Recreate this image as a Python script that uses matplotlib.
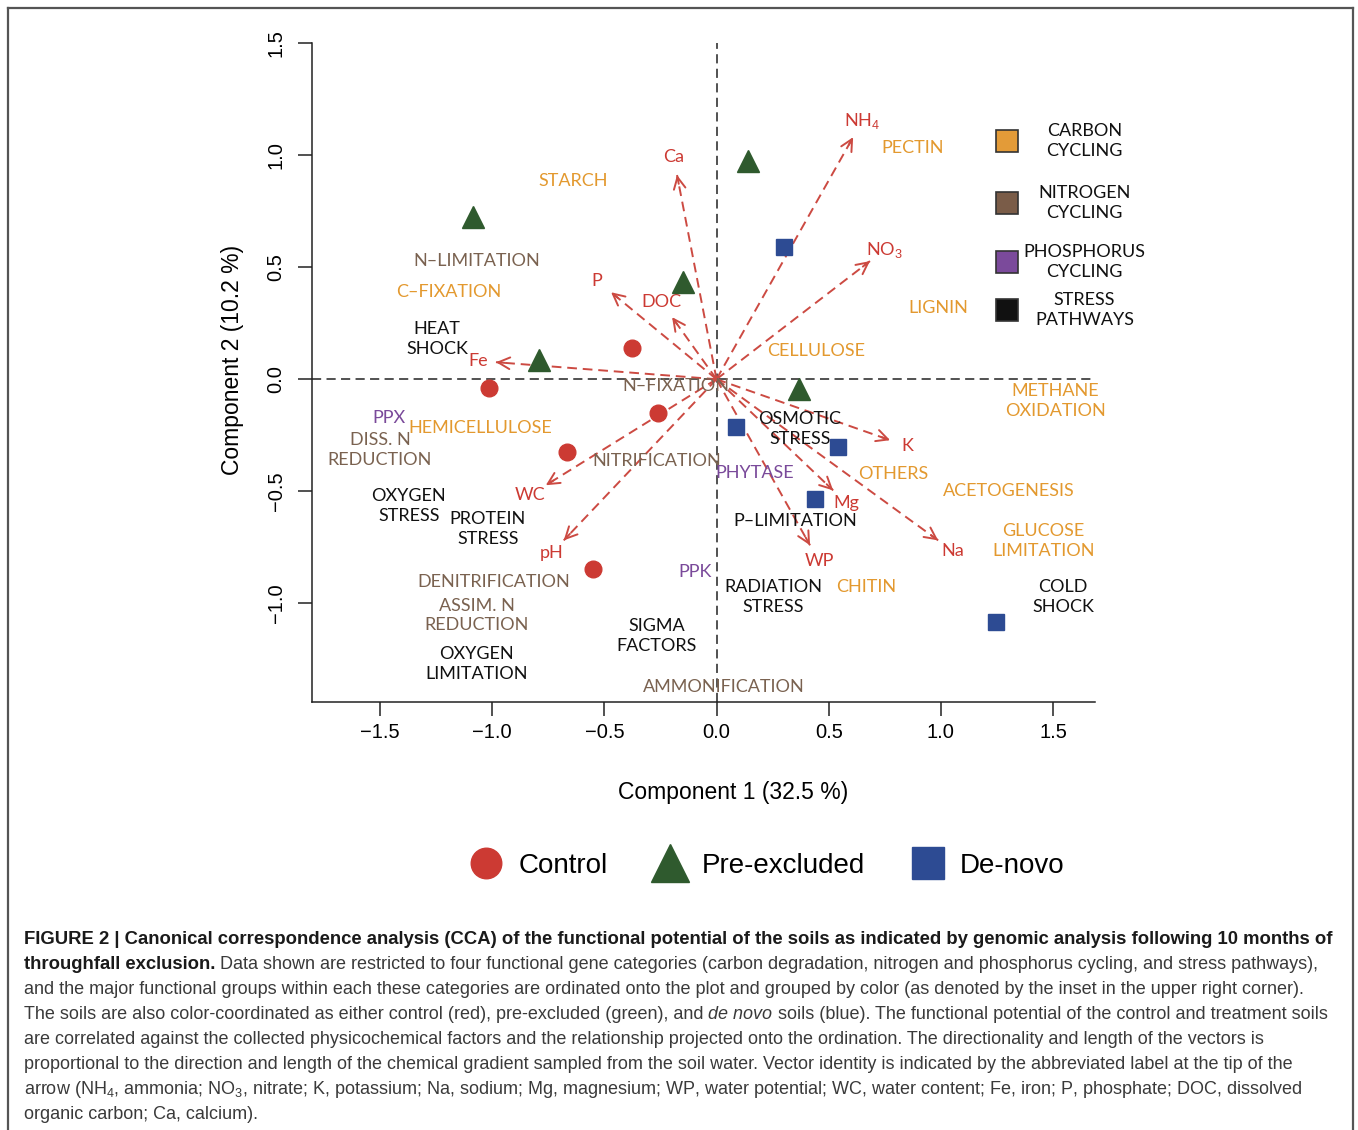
import numpy as np
import matplotlib.pyplot as plt
from matplotlib.lines import Line2D

plt.rcParams['font.family'] = ['Liberation Sans', 'DejaVu Sans']
plt.rcParams['mathtext.fontset'] = 'custom'
plt.rcParams['mathtext.rm'] = 'Liberation Sans'
plt.rcParams['mathtext.it'] = 'Liberation Sans:italic'
plt.rcParams['mathtext.bf'] = 'Liberation Sans:bold'

LABEL_FONT = ['Lato', 'DejaVu Sans']

# --- soil samples (site scores) ---
control_x = [-1.014, -0.377, -0.261, -0.667, -0.551]
control_y = [-0.040, 0.138, -0.152, -0.326, -0.848]
preexcl_x = [-1.086, 0.140, -0.149, -0.793, 0.368]
preexcl_y = [0.723, 0.973, 0.433, 0.085, -0.045]
denovo_x = [0.300, 0.087, 0.540, 0.439, 1.246]
denovo_y = [0.589, -0.214, -0.304, -0.536, -1.085]

# --- physicochemical vectors ---
vec_names = ['NH$_4$', 'NO$_3$', 'Ca', 'P', 'DOC', 'Fe', 'WC', 'pH', 'K', 'Mg', 'Na', 'WP']
vec_x = [0.609, 0.684, -0.176, -0.470, -0.198, -0.983, -0.761, -0.681, 0.774, 0.520, 0.988, 0.417]
vec_y = [1.080, 0.527, 0.911, 0.388, 0.277, 0.076, -0.473, -0.719, -0.272, -0.496, -0.719, -0.741]

# --- functional groups (species scores), by category ---
carbon_names = ['STARCH', 'PECTIN', 'C\u2013FIXATION', 'LIGNIN', 'CELLULOSE', 'METHANE\nOXIDATION',
                'HEMICELLULOSE', 'OTHERS', 'ACETOGENESIS', 'GLUCOSE\nLIMITATION', 'CHITIN']
carbon_x = [-0.640, 0.872, -1.193, 0.988, 0.444, 1.509, -1.054, 0.787, 1.304, 1.456, 0.667]
carbon_y = [0.884, 1.031, 0.388, 0.317, 0.125, -0.098, -0.219, -0.424, -0.500, -0.723, -0.929]

nitrogen_names = ['N\u2013LIMITATION', 'N\u2013FIXATION', 'DISS. N\nREDUCTION', 'NITRIFICATION',
                  'DENITRIFICATION', 'ASSIM. N\nREDUCTION', 'AMMONIFICATION']
nitrogen_x = [-1.068, -0.181, -1.500, -0.265, -0.992, -1.068, 0.033]
nitrogen_y = [0.527, -0.031, -0.317, -0.366, -0.906, -1.054, -1.371]

phos_names = ['PPX', 'PHYTASE', 'PPK']
phos_x = [-1.460, 0.172, -0.096]
phos_y = [-0.174, -0.420, -0.862]

stress_names = ['HEAT\nSHOCK', 'OXYGEN\nSTRESS', 'PROTEIN\nSTRESS', 'OSMOTIC\nSTRESS', 'P\u2013LIMITATION',
                'RADIATION\nSTRESS', 'SIGMA\nFACTORS', 'OXYGEN\nLIMITATION', 'COLD\nSHOCK']
stress_x = [-1.246, -1.371, -1.019, 0.372, 0.350, 0.252, -0.265, -1.068, 1.545]
stress_y = [0.179, -0.567, -0.670, -0.223, -0.634, -0.973, -1.147, -1.272, -0.973]

cat_labels = ['CARBON\nCYCLING', 'NITROGEN\nCYCLING', 'PHOSPHORUS\nCYCLING', 'STRESS\nPATHWAYS']
cat_colors = ['#E39B38', '#7A5C48', '#7B4A9B', '#111111']
text_colors = ['#E3992F', '#7A6250', '#7A4A9A', '#111111']

red = '#CC3A33'
green = '#2F5A2E'
blue = '#2D4B93'
arrow_col = '#CC4A42'

fig = plt.figure(figsize=(13.58, 11.30), dpi=100)
ax = fig.add_axes([312 / 1358, 1 - 702 / 1130, 783 / 1358, 659 / 1130])
ax.set_xlim(-1.803, 1.687)
ax.set_ylim(-1.44, 1.50)
for s in ['top', 'right']:
    ax.spines[s].set_visible(False)
for s in ['left', 'bottom']:
    ax.spines[s].set_linewidth(1.1)
    ax.spines[s].set_color('#222222')

ax.set_xticks([-1.5, -1.0, -0.5, 0.0, 0.5, 1.0, 1.5])
ax.set_yticks([-1.0, -0.5, 0.0, 0.5, 1.0, 1.5])
ax.xaxis.set_major_formatter(plt.FuncFormatter(lambda v, p: f'{v:.1f}'.replace('-', '\u2212')))
ax.yaxis.set_major_formatter(plt.FuncFormatter(lambda v, p: f'{v:.1f}'.replace('-', '\u2212')))
ax.tick_params(length=10, width=1.1, labelsize=14.5, color='#222222')
ax.tick_params(axis='x', pad=5)
ax.tick_params(axis='y', pad=9, labelrotation=90)
plt.setp(ax.get_yticklabels(), va='center')

# reference lines through the origin
ax.axhline(0, color='#222222', lw=1.1, dashes=(6, 3.5), zorder=1)
ax.axvline(0, color='#222222', lw=1.1, dashes=(6, 3.5), zorder=1)

# vectors
for name, x, y in zip(vec_names, vec_x, vec_y):
    ax.plot([0, x], [0, y], color=arrow_col, lw=1.4, dashes=(5, 3), zorder=2)
    L = np.hypot(x, y)
    ux, uy = x / L, y / L
    ax.annotate('', xy=(x, y), xytext=(x - 0.04 * ux, y - 0.04 * uy),
                arrowprops=dict(arrowstyle='->,head_length=0.6,head_width=0.3', color=arrow_col,
                                lw=1.4, shrinkA=0, shrinkB=0, mutation_scale=14), zorder=2)
    ax.annotate(name, xy=(x, y), xytext=(13 * ux, 13 * uy), textcoords='offset points',
                ha='center', va='center', color=red, fontsize=13, family=LABEL_FONT, zorder=3)

# functional group labels
groups = [(carbon_names, carbon_x, carbon_y), (nitrogen_names, nitrogen_x, nitrogen_y),
          (phos_names, phos_x, phos_y), (stress_names, stress_x, stress_y)]
for (names, xs, ys), col in zip(groups, text_colors):
    for n, x, y in zip(names, xs, ys):
        ax.text(x, y, n, color=col, ha='center', va='center', fontsize=13, family=LABEL_FONT,
                linespacing=1.3, zorder=3)

# sample points
ax.plot(control_x, control_y, 'o', color=red, ms=12, mec=red, zorder=4)
ax.plot(preexcl_x, preexcl_y, '^', color=green, ms=16, mec=green, zorder=4)
ax.plot(denovo_x, denovo_y, 's', color=blue, ms=12, mec=blue, zorder=4)

# category inset
inset_y = [1.063, 0.786, 0.522, 0.308]
for lab, col, yy in zip(cat_labels, cat_colors, inset_y):
    ax.plot([1.295], [yy], 's', ms=16, color=col, mec='#333333', mew=1.2, clip_on=False, zorder=5)
    ax.text(1.64, yy, lab, ha='center', va='center', fontsize=13, family=LABEL_FONT,
            color='#111111', linespacing=1.3, clip_on=False)

# axis titles
fig.text(733 / 1358, 1 - 793 / 1130, 'Component 1 (32.5 %)', ha='center', va='center', fontsize=16.5)
fig.text(232 / 1358, 1 - 360 / 1130, 'Component 2 (10.2 %)', ha='center', va='center', fontsize=16.5,
         rotation=90)

# sample legend
handles = [Line2D([], [], marker='o', ls='none', color=red, ms=22),
           Line2D([], [], marker='^', ls='none', color=green, ms=28),
           Line2D([], [], marker='s', ls='none', color=blue, ms=23)]
fig.legend(handles, ['Control', 'Pre-excluded', 'De-novo'], loc='center', ncol=3, frameon=False,
           bbox_to_anchor=(765 / 1358, 1 - 866 / 1130), fontsize=20, handlelength=1.5,
           handletextpad=0.4, columnspacing=1.5)

# figure frame
W, H = 1358, 1130
fig.add_artist(Line2D([8 / W, 8 / W], [0, 1 - 8 / H], color='#555555', lw=1.6))
fig.add_artist(Line2D([8 / W, 1353 / W], [1 - 8 / H, 1 - 8 / H], color='#555555', lw=1.6))
fig.add_artist(Line2D([1353 / W, 1353 / W], [0, 1 - 8 / H], color='#555555', lw=1.6))

# caption
caption = [
    [('FIGURE 2 | Canonical correspondence analysis (CCA) of the functional potential of the soils as '
      'indicated by genomic analysis following 10 months of', 'bold')],
    [('throughfall exclusion.', 'bold'),
     ('Data shown are restricted to four functional gene categories (carbon degradation, nitrogen and '
      'phosphorus cycling, and stress pathways),', 'normal')],
    [('and the major functional groups within each these categories are ordinated onto the plot and '
      'grouped by color (as denoted by the inset in the upper right corner).', 'normal')],
    [('The soils are also color-coordinated as either control (red), pre-excluded (green), and', 'normal'),
     ('de novo', 'italic'),
     ('soils (blue). The functional potential of the control and treatment soils', 'normal')],
    [('are correlated against the collected physicochemical factors and the relationship projected onto '
      'the ordination. The directionality and length of the vectors is', 'normal')],
    [('proportional to the direction and length of the chemical gradient sampled from the soil water. '
      'Vector identity is indicated by the abbreviated label at the tip of the', 'normal')],
    [('arrow (NH$_4$, ammonia; NO$_3$, nitrate; K, potassium; Na, sodium; Mg, magnesium; WP, water '
      'potential; WC, water content; Fe, iron; P, phosphate; DOC, dissolved', 'normal')],
    [('organic carbon; Ca, calcium).', 'normal')],
]
renderer = fig.canvas.get_renderer()


def style_kw(st):
    if st == 'bold':
        return dict(fontweight='bold', color='#1a1a1a', fontsize=13.35)
    if st == 'italic':
        return dict(fontstyle='italic', color='#3a3a3a', fontsize=13.0)
    return dict(color='#3a3a3a', fontsize=13.0)


def text_width(s, st):
    t = fig.text(0, 0, s, **style_kw(st))
    w = t.get_window_extent(renderer).width
    t.remove()
    return w


space_w = text_width('a a', 'normal') - text_width('aa', 'normal')
for i, line in enumerate(caption):
    yb = 1 - (944 + 25 * i) / H
    x = 24
    for j, (s, st) in enumerate(line):
        if j > 0:
            x += space_w
        t = fig.text(x / W, yb, s, va='baseline', ha='left', **style_kw(st))
        x += t.get_window_extent(renderer).width

fig.savefig('out.png', dpi=100)
